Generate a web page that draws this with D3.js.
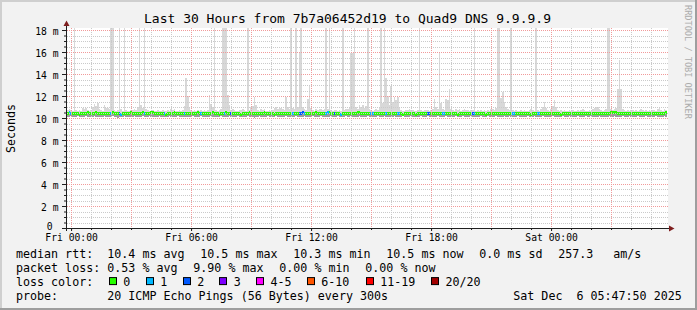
<!DOCTYPE html>
<html>
<head>
<meta charset="utf-8">
<script src="https://cdn.jsdelivr.net/npm/d3@7"></script>
<style>
body { margin: 0; background: #f2f2f2; }
svg { display: block; font-family: 'DejaVu Sans Mono', monospace; }
text { white-space: pre; }
</style>
</head>
<body>
<svg></svg>
<script>
let titleText = 'Last 30 Hours from 7b7a06452d19 to Quad9 DNS 9.9.9.9'
let yLabelText = 'Seconds'
let startTime = new Date(Date.UTC(2025, 11, 4, 23, 47, 50))
let endTime = new Date(Date.UTC(2025, 11, 6, 5, 47, 50))
let stepSeconds = 300
let yTicks = [0, 2, 4, 6, 8, 10, 12, 14, 16, 18]

// median rtt per 5 min step (ms)
let medianMs = [
10.4,10.5,10.4,10.4,10.4,10.4,10.4,10.3,10.4,10.4,10.4,10.4,10.5,10.4,10.4,10.4,10.4,10.5,10.4,10.4,10.4,10.4,10.4,10.4,
10.4,10.4,10.4,10.5,10.4,10.4,10.4,10.4,10.3,10.4,10.4,10.4,10.4,10.4,10.5,10.4,10.4,10.4,10.4,10.4,10.4,10.5,10.4,10.4,
10.4,10.4,10.5,10.5,10.4,10.4,10.4,10.4,10.4,10.4,10.4,10.3,10.4,10.4,10.4,10.4,10.5,10.4,10.4,10.4,10.4,10.4,10.4,10.4,
10.4,10.4,10.4,10.4,10.4,10.4,10.5,10.4,10.4,10.4,10.4,10.4,10.4,10.4,10.4,10.5,10.4,10.4,10.4,10.3,10.4,10.4,10.4,10.5,
10.4,10.4,10.4,10.4,10.4,10.4,10.4,10.4,10.3,10.4,10.4,10.4,10.4,10.5,10.4,10.4,10.4,10.4,10.4,10.4,10.4,10.4,10.5,10.4,
10.4,10.4,10.4,10.4,10.3,10.4,10.4,10.4,10.4,10.4,10.4,10.4,10.4,10.4,10.4,10.4,10.4,10.4,10.4,10.4,10.4,10.5,10.4,10.4,
10.4,10.4,10.4,10.4,10.4,10.5,10.4,10.4,10.4,10.4,10.4,10.4,10.5,10.5,10.4,10.4,10.4,10.4,10.4,10.4,10.3,10.4,10.4,10.4,
10.4,10.4,10.4,10.4,10.4,10.4,10.5,10.5,10.4,10.4,10.4,10.4,10.4,10.4,10.4,10.4,10.4,10.4,10.4,10.4,10.4,10.4,10.4,10.4,
10.4,10.4,10.4,10.4,10.4,10.4,10.4,10.4,10.4,10.3,10.4,10.4,10.4,10.4,10.4,10.4,10.4,10.3,10.4,10.4,10.4,10.4,10.4,10.4,
10.4,10.4,10.4,10.4,10.4,10.4,10.4,10.4,10.4,10.4,10.4,10.4,10.4,10.4,10.4,10.4,10.4,10.4,10.3,10.4,10.4,10.4,10.4,10.4,
10.4,10.4,10.4,10.4,10.4,10.4,10.4,10.4,10.4,10.4,10.4,10.3,10.4,10.4,10.4,10.4,10.4,10.4,10.4,10.4,10.4,10.4,10.4,10.4,
10.4,10.4,10.4,10.4,10.4,10.4,10.4,10.4,10.4,10.4,10.4,10.4,10.4,10.4,10.3,10.4,10.4,10.4,10.4,10.4,10.4,10.4,10.4,10.4,
10.4,10.4,10.4,10.4,10.4,10.4,10.4,10.4,10.3,10.4,10.4,10.4,10.4,10.4,10.4,10.4,10.4,10.4,10.4,10.4,10.4,10.4,10.4,10.4,
10.4,10.4,10.4,10.4,10.4,10.4,10.4,10.4,10.4,10.4,10.4,10.4,10.4,10.4,10.5,10.5,10.5,10.5,10.4,10.4,10.4,10.4,10.4,10.4,
10.4,10.4,10.4,10.4,10.4,10.4,10.4,10.4,10.4,10.4,10.4,10.4,10.4,10.4,10.4,10.4,10.4,10.4,10.4,10.4,10.4,10.4,10.4,10.5
]

// fastest ping per step (ms)
let minMs = [
10.1,10.1,10.2,10.1,10.1,10.1,10.2,10.1,10.1,10.1,10.1,10.2,10.1,10.1,10.1,10.1,10.2,10.1,10.1,10.1,10.1,10.1,10.2,10.1,
10.1,10.1,10.1,10.2,10.1,10.1,10.0,10.1,10.1,10.1,10.2,10.1,10.1,10.1,10.1,10.1,10.2,10.1,10.1,10.1,10.1,10.2,10.1,10.1,
10.1,10.2,10.1,10.1,10.1,10.1,10.1,10.2,10.1,10.1,10.1,10.1,10.1,10.2,10.1,10.1,10.1,10.1,10.2,10.1,10.1,10.1,10.1,10.1,
10.1,10.1,10.1,10.2,10.1,10.1,10.1,10.1,10.2,10.1,10.1,10.1,10.1,10.1,10.2,10.1,10.1,10.1,10.1,10.1,10.2,10.1,10.1,10.1,
10.1,10.2,10.1,10.1,10.1,10.1,10.2,10.1,10.1,10.1,10.1,10.1,10.2,10.1,10.1,10.1,10.0,10.1,10.1,10.2,10.1,10.1,10.1,10.1,
10.2,10.1,10.1,10.1,10.1,10.2,10.1,10.1,10.1,10.1,10.1,10.2,10.1,10.1,10.1,10.1,10.1,10.2,10.1,10.1,10.1,10.1,10.2,10.1,
10.1,10.1,10.1,10.2,10.1,10.1,10.1,10.1,10.2,10.1,10.1,10.1,10.1,10.1,10.2,10.1,10.1,10.1,10.2,10.1,10.1,10.1,10.1,10.2,
10.1,10.1,10.2,10.1,10.1,10.1,10.1,10.2,10.1,10.1,10.1,10.1,10.2,10.1,10.1,10.1,10.1,10.1,10.2,10.1,10.1,10.1,10.2,10.1,
10.1,10.1,10.1,10.1,10.2,10.1,10.1,10.1,10.1,10.2,10.1,10.1,10.1,10.1,10.2,10.1,10.1,10.1,10.1,10.1,10.2,10.1,10.1,10.1,
10.2,10.1,10.1,10.1,10.1,10.1,10.2,10.1,10.1,10.1,10.1,10.2,10.1,10.1,10.1,10.1,10.1,10.2,10.1,10.1,10.1,10.2,10.1,10.1,
10.1,10.1,10.2,10.1,10.1,10.1,10.1,10.1,10.2,10.1,10.1,10.1,10.2,10.1,10.1,10.1,10.1,10.2,10.1,10.1,10.1,10.1,10.2,10.1,
10.1,10.2,10.1,10.1,10.1,10.1,10.2,10.1,10.1,10.1,10.1,10.1,10.2,10.1,10.1,10.1,10.2,10.1,10.1,10.1,10.1,10.2,10.1,10.1,
10.1,10.1,10.1,10.2,10.1,10.1,10.1,10.1,10.1,10.2,10.1,10.1,10.1,10.2,10.1,10.1,10.1,10.1,10.2,10.1,10.1,10.1,10.1,10.2,
10.1,10.1,10.2,10.1,10.1,10.1,10.1,10.2,10.1,10.1,10.1,10.1,10.1,10.2,10.1,10.1,10.2,10.1,10.1,10.1,10.1,10.2,10.1,10.1,
10.1,10.2,10.1,10.1,10.1,10.1,10.2,10.1,10.1,10.1,10.1,10.2,10.1,10.1,10.1,10.1,10.1,10.2,10.1,10.1,10.1,10.1,10.2,10.1
]

// slowest ping per step (ms), 20.0 = off the top of the chart
let maxMs = [
10.7,10.8,10.7,10.6,20.0,10.7,10.6,10.7,10.6,10.9,10.8,10.9,10.7,10.6,10.7,11.0,11.3,11.1,11.4,10.8,10.7,10.6,11.2,10.9,
10.9,10.8,20.0,20.0,10.7,10.6,10.7,20.0,10.8,10.6,20.0,10.7,10.6,10.6,10.7,10.7,10.8,10.7,11.0,20.0,11.2,10.9,20.0,10.8,
10.7,10.6,10.6,10.7,10.6,10.6,10.7,10.6,10.6,10.7,10.6,10.6,10.7,10.6,10.8,10.7,10.8,10.6,10.6,10.7,10.6,10.7,11.1,13.6,
12.0,10.9,10.7,10.6,10.7,10.6,10.7,10.6,10.7,10.6,10.7,10.6,10.7,12.1,11.3,11.0,20.0,10.7,10.6,10.7,10.8,20.0,20.0,20.0,
12.1,11.2,10.7,10.8,10.7,10.6,10.6,10.7,10.7,10.8,10.7,10.6,20.0,10.7,11.0,11.1,11.9,11.2,10.7,10.6,10.8,10.7,10.8,10.6,
10.6,10.7,10.6,10.7,10.9,11.0,10.8,11.0,10.9,10.8,10.7,11.9,11.0,10.8,20.0,10.9,10.8,20.0,11.0,16.0,20.0,11.0,10.8,10.7,
11.7,12.9,10.9,10.7,10.6,10.8,10.7,10.8,10.8,10.7,10.8,20.0,10.8,20.0,10.7,10.6,10.7,10.7,10.6,10.7,10.6,20.0,10.7,10.8,
10.8,11.0,15.9,15.9,20.0,11.0,10.8,11.2,11.0,11.2,10.9,11.1,20.0,10.8,10.7,10.6,10.7,10.8,10.7,10.9,20.0,11.4,20.0,13.6,
12.0,11.2,12.9,11.5,11.9,11.6,11.9,10.9,10.7,10.6,10.6,10.7,10.7,10.8,10.7,10.7,10.6,10.6,10.7,20.0,10.7,10.6,10.7,10.7,
10.7,10.6,10.7,10.8,11.7,11.0,10.8,16.0,11.4,10.8,10.7,11.7,11.6,12.6,10.8,10.7,10.6,10.8,10.7,10.8,10.6,10.7,10.8,10.7,
10.7,10.6,10.7,10.7,20.0,10.6,10.7,10.6,10.7,10.6,10.7,10.6,10.7,10.6,10.8,10.8,10.7,10.9,20.0,20.0,11.8,12.4,11.5,11.0,
10.8,10.7,20.0,10.7,10.6,10.7,10.6,10.6,10.7,10.6,10.7,10.6,10.6,10.7,10.8,10.7,10.6,20.0,10.7,10.6,10.8,11.0,11.5,10.9,
10.7,10.6,10.8,11.1,11.6,11.0,10.7,10.6,10.7,10.6,10.7,10.6,10.6,10.7,10.6,10.7,10.6,10.6,10.7,10.6,10.7,10.8,10.7,10.6,
10.6,10.7,10.6,10.8,10.9,11.0,11.0,10.8,10.7,10.6,10.7,10.8,20.0,20.0,10.8,10.7,10.8,10.9,12.6,15.3,12.6,10.8,10.7,10.6,
10.7,10.6,10.7,10.7,10.6,10.7,10.6,10.7,10.8,10.7,10.6,10.7,10.6,10.7,10.6,10.7,10.7,10.6,10.8,10.9,10.7,10.6,10.8,10.7
]

// lost pings (of 20) per step
let lossCount = [
0,1,1,0,0,0,0,0,0,0,0,0,0,0,0,0,0,0,0,0,0,0,0,0,
0,0,1,0,0,0,0,2,1,0,0,0,0,0,0,0,0,0,0,0,0,0,1,0,
0,0,0,0,0,0,0,0,0,0,1,0,0,0,0,0,0,0,0,0,0,0,1,0,
0,0,0,0,0,0,0,0,1,0,0,0,0,0,0,0,0,0,0,0,0,0,1,0,
0,0,2,0,0,0,0,0,0,0,0,0,0,0,0,0,0,0,0,0,0,0,0,0,
0,0,0,0,0,0,0,0,0,0,0,0,0,0,0,1,0,0,0,2,2,2,1,0,
0,0,0,0,0,0,0,0,0,0,0,1,1,0,0,0,2,0,0,0,1,0,0,0,
0,0,0,0,0,0,0,0,0,0,0,0,0,0,1,1,0,0,0,0,0,0,0,1,
0,0,0,0,0,0,1,1,0,0,0,0,0,0,0,0,0,0,0,0,0,0,0,0,
2,2,0,0,0,0,0,0,0,1,1,0,0,0,0,0,0,0,0,0,0,0,0,0,
0,0,0,2,1,0,0,0,0,0,0,0,0,0,0,0,0,0,0,0,0,0,0,0,
0,0,0,1,1,0,0,0,0,0,0,0,0,0,0,0,0,0,1,1,0,0,0,0,
0,0,0,0,0,0,0,0,0,0,0,0,0,0,0,0,0,0,0,0,0,0,0,0,
0,0,0,0,0,0,0,0,0,0,0,0,0,0,0,0,0,0,0,0,0,0,0,0,
0,0,0,0,0,0,0,0,0,0,0,0,0,0,0,0,0,0,0,0,0,0,0,0
]

let lossLabels = ['0', '1', '2', '3', '4-5', '6-10', '11-19', '20/20']
let lossUpper = [0, 1, 2, 3, 5, 10, 19, 20]
let lossColors = ['#26ff00', '#00b8ff', '#0059ff', '#7e00ff', '#ff00ff', '#ff5500', '#ff0000', '#a10000']

let rttStats = ['10.4 ms avg', '10.5 ms max', '10.3 ms min', '10.5 ms now', '0.0 ms sd', '257.3', 'am/s']
let lossStats = ['0.53 % avg', '9.90 % max', '0.00 % min', '0.00 % now']
let probeText = '20 ICMP Echo Pings (56 Bytes) every 300s'
let stampText = 'Sat Dec  6 05:47:50 2025'
let watermark = 'RRDTOOL / TOBI OETIKER'

let width = 697
let height = 310
let plotLeft = 67
let plotRight = 667
let plotTop = 28
let plotBottom = 228

let xScale
let yScale

let svg = d3.select('svg')

let drawCanvas = () => {
    svg.attr('width', width).attr('height', height)
    svg.append('rect').attr('width', width).attr('height', height).attr('fill', '#f2f2f2')
    // rrdtool style 3d frame
    svg.append('rect').attr('x', 0).attr('y', 0).attr('width', width).attr('height', 2).attr('fill', '#cfcfcf')
    svg.append('rect').attr('x', 0).attr('y', 0).attr('width', 2).attr('height', height).attr('fill', '#cfcfcf')
    svg.append('rect').attr('x', 0).attr('y', height - 2).attr('width', width).attr('height', 2).attr('fill', '#9e9e9e')
    svg.append('rect').attr('x', width - 2).attr('y', 0).attr('width', 2).attr('height', height).attr('fill', '#9e9e9e')
    svg.append('rect')
       .attr('x', plotLeft).attr('y', plotTop)
       .attr('width', plotRight - plotLeft + 1).attr('height', plotBottom - plotTop)
       .attr('fill', '#ffffff')
}

let generateScales = () => {
    xScale = d3.scaleUtc()
               .domain([startTime, endTime])
               .range([plotLeft, plotRight])
    yScale = d3.scaleLinear()
               .domain([0, (plotBottom - plotTop) / 11])
               .range([plotBottom, plotTop])
               .clamp(true)
}

let stepStart = (i) => new Date(startTime.getTime() + i * stepSeconds * 1000)
let stepEnd = (i) => new Date(startTime.getTime() + (i + 1) * stepSeconds * 1000)

let lossColor = (c) => {
    let idx = lossUpper.findIndex(u => c <= u)
    return lossColors[idx]
}

let drawSmoke = () => {
    let g = svg.append('g').attr('shape-rendering', 'crispEdges')
    g.selectAll('rect.outer')
     .data(maxMs)
     .enter()
     .append('rect')
     .attr('class', 'outer')
     .attr('x', (d, i) => xScale(stepStart(i)))
     .attr('width', (d, i) => xScale(stepEnd(i)) - xScale(stepStart(i)))
     .attr('y', (d) => yScale(d))
     .attr('height', (d, i) => yScale(minMs[i]) - yScale(d))
     .attr('fill', '#d8d8d8')

    g.selectAll('rect.inner')
     .data(medianMs)
     .enter()
     .append('rect')
     .attr('class', 'inner')
     .attr('x', (d, i) => xScale(stepStart(i)))
     .attr('width', (d, i) => xScale(stepEnd(i)) - xScale(stepStart(i)))
     .attr('y', (d) => yScale(d))
     .attr('height', (d, i) => yScale(minMs[i]) - yScale(d))
     .attr('fill', '#9c9c9c')

    g.selectAll('rect.median')
     .data(medianMs)
     .enter()
     .append('rect')
     .attr('class', 'median')
     .attr('x', (d, i) => xScale(stepStart(i)))
     .attr('width', (d, i) => xScale(stepEnd(i)) - xScale(stepStart(i)))
     .attr('y', (d) => yScale(d) - 1.5)
     .attr('height', 3)
     .attr('fill', (d, i) => lossColor(lossCount[i]))
}

let drawGrid = () => {
    let g = svg.append('g').attr('stroke-dasharray', '1,1').attr('stroke-width', 1)
    let minorY = d3.range(0.5, 18.1, 0.5).filter(v => v % 2 !== 0)
    let majorY = yTicks.filter(v => v > 0)
    let hours = d3.utcHour.range(startTime, endTime)

    g.selectAll('line.hminor')
     .data(minorY)
     .enter()
     .append('line')
     .attr('x1', plotLeft).attr('x2', plotRight + 1)
     .attr('y1', d => Math.round(yScale(d)) + 0.5)
     .attr('y2', d => Math.round(yScale(d)) + 0.5)
     .attr('stroke', '#cacaca')

    g.selectAll('line.vminor')
     .data(hours.filter(h => h.getUTCHours() % 3 !== 0))
     .enter()
     .append('line')
     .attr('y1', plotTop).attr('y2', plotBottom)
     .attr('x1', d => Math.round(xScale(d)) + 0.5)
     .attr('x2', d => Math.round(xScale(d)) + 0.5)
     .attr('stroke', '#cacaca')

    g.selectAll('line.hmajor')
     .data(majorY)
     .enter()
     .append('line')
     .attr('x1', plotLeft).attr('x2', plotRight + 1)
     .attr('y1', d => Math.round(yScale(d)) + 0.5)
     .attr('y2', d => Math.round(yScale(d)) + 0.5)
     .attr('stroke', '#f19a9a')

    g.selectAll('line.vmajor')
     .data(hours.filter(h => h.getUTCHours() % 3 === 0))
     .enter()
     .append('line')
     .attr('y1', plotTop).attr('y2', plotBottom)
     .attr('x1', d => Math.round(xScale(d)) + 0.5)
     .attr('x2', d => Math.round(xScale(d)) + 0.5)
     .attr('stroke', '#f19a9a')
}

let generateAxes = () => {
    let axisColor = '#1f1f1f'
    let axisFont = '9.7px'
    let minorY = d3.range(0.5, 18.1, 0.5).filter(v => v % 2 !== 0)

    let yMinor = d3.axisLeft(yScale).tickValues(minorY).tickSize(2).tickFormat('')
    svg.append('g').attr('transform', 'translate(' + (plotLeft - 1) + ',0)').call(yMinor)
       .call(g => g.select('.domain').remove())
       .selectAll('line').attr('stroke', axisColor)

    let yAxis = d3.axisLeft(yScale)
                  .tickValues(yTicks)
                  .tickSize(4)
                  .tickPadding(3.5)
                  .tickFormat(v => v === 0 ? '0\u00a0' : v + ' m')
    let ya = svg.append('g')
       .attr('id', 'y-axis')
       .attr('transform', 'translate(' + (plotLeft - 1) + ',0)')
       .call(yAxis)
    ya.select('.domain').remove()
    ya.selectAll('line').attr('stroke', axisColor)
    ya.selectAll('text')
      .attr('dy', d => d === 0 ? '0.2em' : '0.42em')
      .attr('font-size', axisFont).attr('fill', '#000')
      .attr('font-family', "'DejaVu Sans Mono', monospace")

    let hours = d3.utcHour.range(startTime, endTime)
    let xMinor = d3.axisBottom(xScale).tickValues(hours).tickSize(2).tickFormat('')
    svg.append('g').attr('transform', 'translate(0,' + plotBottom + ')').call(xMinor)
       .call(g => g.select('.domain').remove())
       .selectAll('line').attr('stroke', axisColor)

    let xAxis = d3.axisBottom(xScale)
                  .tickValues(hours.filter(h => h.getUTCHours() % 6 === 0))
                  .tickSize(3)
                  .tickPadding(3.6)
                  .tickFormat(d3.utcFormat('%a %H:%M'))
    let xa = svg.append('g')
       .attr('id', 'x-axis')
       .attr('transform', 'translate(0,' + plotBottom + ')')
       .call(xAxis)
    xa.select('.domain').remove()
    xa.selectAll('line').attr('stroke', axisColor)
    xa.selectAll('text').attr('font-size', axisFont).attr('fill', '#000')
      .attr('font-family', "'DejaVu Sans Mono', monospace")

    // axis lines and arrows
    svg.append('line')
       .attr('x1', plotLeft - 0.5).attr('x2', plotLeft - 0.5)
       .attr('y1', plotBottom + 3).attr('y2', plotTop - 3)
       .attr('stroke', axisColor)
    svg.append('line')
       .attr('x1', plotLeft - 5).attr('x2', plotRight + 3)
       .attr('y1', plotBottom + 0.5).attr('y2', plotBottom + 0.5)
       .attr('stroke', axisColor)
    svg.append('path')
       .attr('d', 'M' + (plotLeft - 3.5) + ',' + (plotTop - 2) + 'L' + (plotLeft + 2.5) + ',' + (plotTop - 2) + 'L' + (plotLeft - 0.5) + ',' + (plotTop - 7.5) + 'Z')
       .attr('fill', '#7f1f1f')
    svg.append('path')
       .attr('d', 'M' + (plotRight + 2) + ',' + (plotBottom - 2.5) + 'L' + (plotRight + 2) + ',' + (plotBottom + 3.5) + 'L' + (plotRight + 7.5) + ',' + (plotBottom + 0.5) + 'Z')
       .attr('fill', '#7f1f1f')
}

let drawTexts = () => {
    svg.append('text')
       .attr('x', 347.5).attr('y', 23)
       .attr('text-anchor', 'middle')
       .attr('font-size', '13px')
       .text(titleText)

    svg.append('text')
       .attr('transform', 'translate(14.5,' + ((plotTop + plotBottom) / 2 + 0.5) + ') rotate(-90)')
       .attr('text-anchor', 'middle')
       .attr('font-size', '11.66px')
       .text(yLabelText)

    svg.append('text')
       .attr('transform', 'translate(684.5,5) rotate(90)')
       .attr('font-size', '8.6px')
       .attr('fill', '#acacac')
       .text(watermark)

    let fs = '11.66px'
    let rowY = [257.8, 271.7, 285.6, 299.5]
    let labelX = 16

    let legend = svg.append('g').attr('font-size', fs).attr('fill', '#000')

    legend.append('text').attr('x', labelX).attr('y', rowY[0]).text('median rtt:')
    let rttX = [107.3, 200.3, 293.3, 386.3, 479.3, 558.3, 613.3]
    rttStats.forEach((s, i) => {
        legend.append('text').attr('x', rttX[i]).attr('y', rowY[0]).text(s)
    })

    legend.append('text').attr('x', labelX).attr('y', rowY[1]).text('packet loss:')
    let lossX = [107.3, 193.3, 279.3, 365.3]
    lossStats.forEach((s, i) => {
        legend.append('text').attr('x', lossX[i]).attr('y', rowY[1]).text(s)
    })

    legend.append('text').attr('x', labelX).attr('y', rowY[2]).text('loss color:')
    let boxX = [108.7, 145.7, 182.7, 219.3, 256, 306.7, 365.7, 431]
    lossLabels.forEach((s, i) => {
        legend.append('rect')
              .attr('x', Math.round(boxX[i]) + 0.5).attr('y', rowY[2] - 8)
              .attr('width', 7).attr('height', 7)
              .attr('fill', lossColors[i])
              .attr('stroke', '#000')
        legend.append('text').attr('x', boxX[i] + 14.5).attr('y', rowY[2]).text(s)
    })

    legend.append('text').attr('x', labelX).attr('y', rowY[3]).text('probe:')
    legend.append('text').attr('x', 107.3).attr('y', rowY[3]).text(probeText)
    legend.append('text').attr('x', 513.3).attr('y', rowY[3]).text(stampText)
}

drawCanvas()
generateScales()
drawSmoke()
drawGrid()
generateAxes()
drawTexts()
</script>
</body>
</html>
